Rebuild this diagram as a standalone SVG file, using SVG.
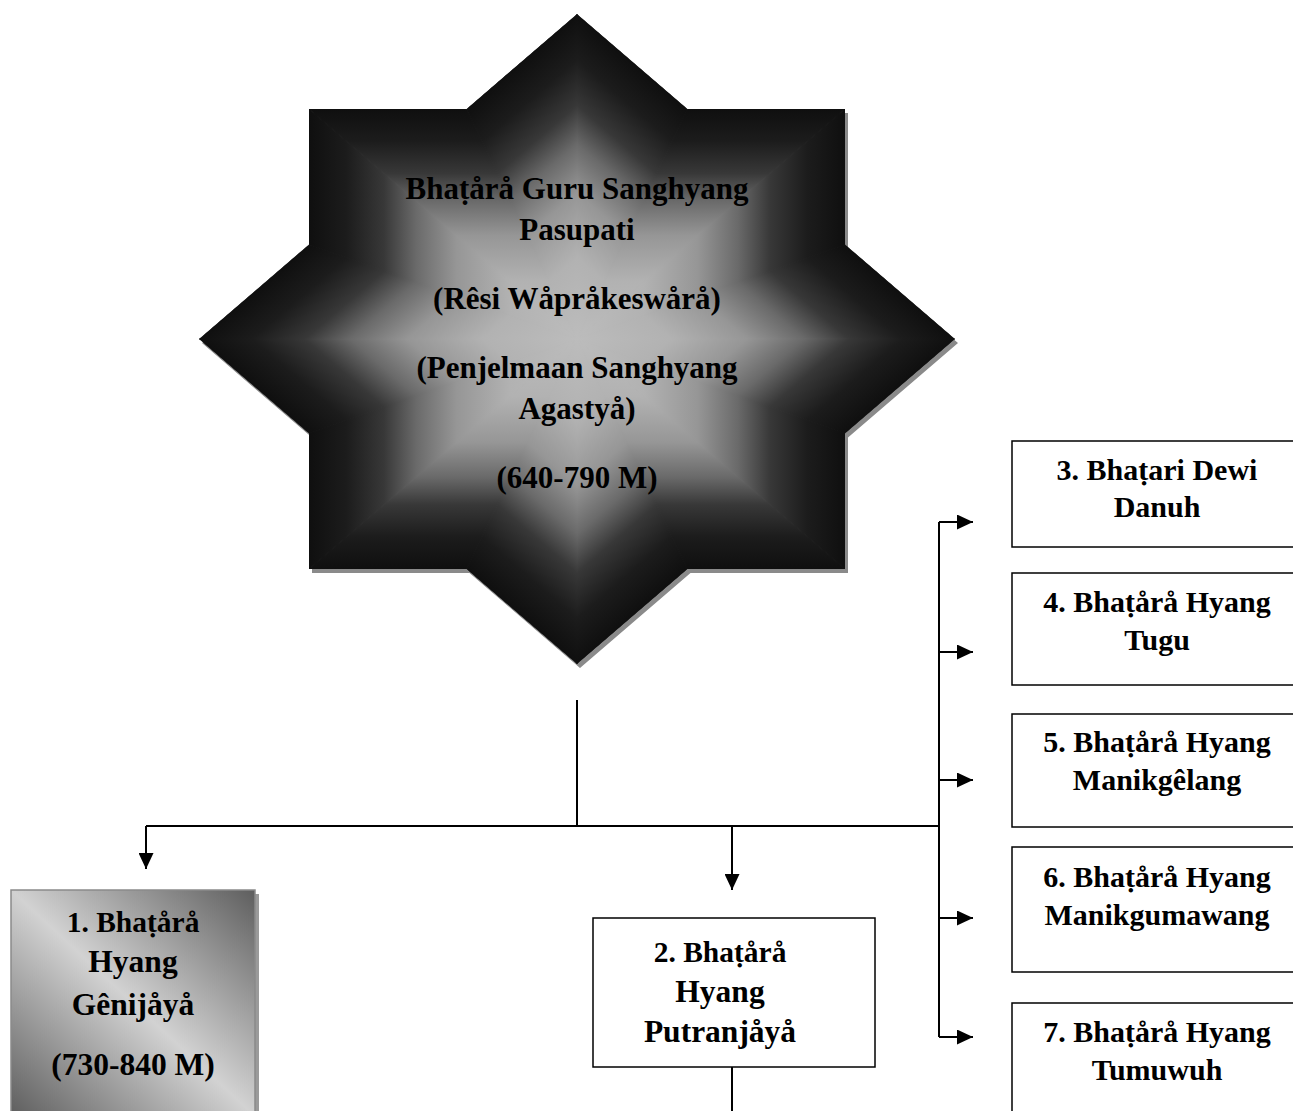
<svg xmlns="http://www.w3.org/2000/svg" width="1293" height="1111" viewBox="0 0 1293 1111">
<defs>
<style>
.t{font-family:"Liberation Serif","Times New Roman",serif;font-weight:bold;fill:#000;text-anchor:middle}
.s{font-size:31px}
.b1{font-size:29.5px}
.b2{font-size:31.5px}
.r{font-size:30px}
.con{fill:none;stroke:#000;stroke-width:2}
.box{fill:#fff;stroke:#000;stroke-width:1.5}
.tri{stroke-width:1}
</style>
<path id="starShape" d="M577,14 L687.5,109 L845,109 L845,244.4 L955,339 L845,433.6 L845,569 L687.5,569 L577,664 L466.5,569 L309,569 L309,433.6 L199,339 L309,244.4 L309,109 L466.5,109 Z"/>
<clipPath id="starClip">
<use href="#starShape"/>
</clipPath>
<linearGradient id="gBase">
<stop offset="0" stop-color="#bcbcbc"/>
<stop offset="0.25" stop-color="#b2b2b2"/>
<stop offset="0.45" stop-color="#969696"/>
<stop offset="0.6" stop-color="#6a6a6a"/>
<stop offset="0.72" stop-color="#383838"/>
<stop offset="0.86" stop-color="#1c1c1c"/>
<stop offset="1" stop-color="#0f0f0f"/>
</linearGradient>
<linearGradient id="gDTR" href="#gBase" gradientUnits="userSpaceOnUse" x1="577" y1="339" x2="737.66" y2="152.14"/>
<linearGradient id="gDBR" href="#gBase" gradientUnits="userSpaceOnUse" x1="577" y1="339" x2="737.66" y2="525.86"/>
<linearGradient id="gDBL" href="#gBase" gradientUnits="userSpaceOnUse" x1="577" y1="339" x2="416.34" y2="525.86"/>
<linearGradient id="gDTL" href="#gBase" gradientUnits="userSpaceOnUse" x1="577" y1="339" x2="416.34" y2="152.14"/>
<linearGradient id="gST" href="#gBase" gradientUnits="userSpaceOnUse" x1="577" y1="339" x2="577" y2="109"/>
<linearGradient id="gSB" href="#gBase" gradientUnits="userSpaceOnUse" x1="577" y1="339" x2="577" y2="569"/>
<linearGradient id="gSL" href="#gBase" gradientUnits="userSpaceOnUse" x1="577" y1="339" x2="309" y2="339"/>
<linearGradient id="gSR" href="#gBase" gradientUnits="userSpaceOnUse" x1="577" y1="339" x2="845" y2="339"/>
<linearGradient id="box1Grad" x1="1" y1="0" x2="0" y2="1">
<stop offset="0" stop-color="#5e5e5e"/>
<stop offset="0.5" stop-color="#d2d2d2"/>
<stop offset="1" stop-color="#5e5e5e"/>
</linearGradient>
<marker id="arr" markerUnits="userSpaceOnUse" markerWidth="16" markerHeight="15" refX="16" refY="7.5" orient="auto">
<path d="M0,0 L16,7.5 L0,15 z" fill="#000"/>
</marker>
</defs>

<g id="node-0">
<use href="#starShape" transform="translate(3 4)" fill="#8a8a8a"/>
<g clip-path="url(#starClip)" class="tri">
<polygon points="577,339 577,14 687.5,109" fill="url(#gDTR)" stroke="url(#gDTR)"/>
<polygon points="577,339 687.5,109 845,109" fill="url(#gST)" stroke="url(#gST)"/>
<polygon points="577,339 845,109 845,244.4" fill="url(#gSR)" stroke="url(#gSR)"/>
<polygon points="577,339 845,244.4 955,339" fill="url(#gDTR)" stroke="url(#gDTR)"/>
<polygon points="577,339 955,339 845,433.6" fill="url(#gDBR)" stroke="url(#gDBR)"/>
<polygon points="577,339 845,433.6 845,569" fill="url(#gSR)" stroke="url(#gSR)"/>
<polygon points="577,339 845,569 687.5,569" fill="url(#gSB)" stroke="url(#gSB)"/>
<polygon points="577,339 687.5,569 577,664" fill="url(#gDBR)" stroke="url(#gDBR)"/>
<polygon points="577,339 577,664 466.5,569" fill="url(#gDBL)" stroke="url(#gDBL)"/>
<polygon points="577,339 466.5,569 309,569" fill="url(#gSB)" stroke="url(#gSB)"/>
<polygon points="577,339 309,569 309,433.6" fill="url(#gSL)" stroke="url(#gSL)"/>
<polygon points="577,339 309,433.6 199,339" fill="url(#gDBL)" stroke="url(#gDBL)"/>
<polygon points="577,339 199,339 309,244.4" fill="url(#gDTL)" stroke="url(#gDTL)"/>
<polygon points="577,339 309,244.4 309,109" fill="url(#gSL)" stroke="url(#gSL)"/>
<polygon points="577,339 309,109 466.5,109" fill="url(#gST)" stroke="url(#gST)"/>
<polygon points="577,339 466.5,109 577,14" fill="url(#gDTL)" stroke="url(#gDTL)"/>
</g>
<text class="t s" x="577" y="199">Bhaṭårå Guru Sanghyang</text>
<text class="t s" x="577" y="240">Pasupati</text>
<text class="t s" x="577" y="309">(Rêsi Wåpråkeswårå)</text>
<text class="t s" x="577" y="378">(Penjelmaan Sanghyang</text>
<text class="t s" x="577" y="419">Agastyå)</text>
<text class="t s" x="577" y="488">(640-790 M)</text>
</g>

<g id="node-1">
<rect x="15" y="894" width="244" height="222" fill="#9a9a9a"/>
<rect x="11" y="890" width="244" height="226" fill="url(#box1Grad)" stroke="#8a8a8a" stroke-width="1.5"/>
<text class="t b1" x="133" y="932">1. Bhaṭårå</text>
<text class="t b2" x="133" y="972">Hyang</text>
<text class="t b2" x="133" y="1015">Gênijåyå</text>
<text class="t b2" x="133" y="1075">(730-840 M)</text>
</g>

<g id="node-2">
<rect class="box" x="593" y="918" width="282" height="149"/>
<text class="t b1" x="720" y="962">2. Bhaṭårå</text>
<text class="t b2" x="720" y="1002">Hyang</text>
<text class="t b2" x="720" y="1042">Putranjåyå</text>
</g>

<g id="node-3">
<rect class="box" x="1012" y="441" width="290" height="106"/>
<text class="t r" x="1157" y="480">3. Bhaṭari Dewi</text>
<text class="t r" x="1157" y="517">Danuh</text>
</g>

<g id="node-4">
<rect class="box" x="1012" y="573" width="290" height="112"/>
<text class="t r" x="1157" y="612">4. Bhaṭårå Hyang</text>
<text class="t r" x="1157" y="650">Tugu</text>
</g>

<g id="node-5">
<rect class="box" x="1012" y="714" width="290" height="113"/>
<text class="t r" x="1157" y="752">5. Bhaṭårå Hyang</text>
<text class="t r" x="1157" y="790">Manikgêlang</text>
</g>

<g id="node-6">
<rect class="box" x="1012" y="847" width="290" height="125"/>
<text class="t r" x="1157" y="887">6. Bhaṭårå Hyang</text>
<text class="t r" x="1157" y="925">Manikgumawang</text>
</g>

<g id="node-7">
<rect class="box" x="1012" y="1003" width="290" height="120"/>
<text class="t r" x="1157" y="1042">7. Bhaṭårå Hyang</text>
<text class="t r" x="1157" y="1080">Tumuwuh</text>
</g>

<g id="connectors">
<path class="con" d="M577,700 V826"/>
<path class="con" d="M146,826 H939"/>
<path class="con" d="M146,826 V869" marker-end="url(#arr)"/>
<path class="con" d="M732,826 V890" marker-end="url(#arr)"/>
<path class="con" d="M939,522 V1037"/>
<path class="con" d="M939,522 H973" marker-end="url(#arr)"/>
<path class="con" d="M939,652 H973" marker-end="url(#arr)"/>
<path class="con" d="M939,780 H973" marker-end="url(#arr)"/>
<path class="con" d="M939,918 H973" marker-end="url(#arr)"/>
<path class="con" d="M939,1037 H973" marker-end="url(#arr)"/>
<path class="con" d="M732,1067 V1111"/>
</g>
</svg>
